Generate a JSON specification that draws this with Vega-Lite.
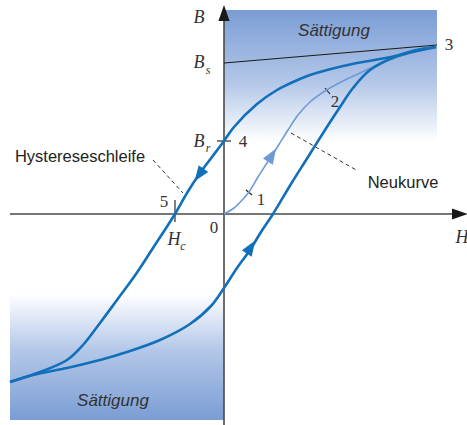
{
  "$schema": "https://vega.github.io/schema/vega-lite/v6.json",
  "width": 467,
  "height": 425,
  "padding": 0,
  "autosize": "none",
  "background": "white",
  "config": {"view": {"stroke": null}},
  "datasets": {
    "upper": [
      {"i":0,"H":212,"B":167},{"i":1,"H":193,"B":163},{"i":2,"H":167,"B":157},{"i":3,"H":133,"B":151},
      {"i":4,"H":103,"B":144},{"i":5,"H":86,"B":139},{"i":6,"H":69,"B":132},{"i":7,"H":53,"B":124},
      {"i":8,"H":33,"B":110},{"i":9,"H":10,"B":87},{"i":10,"H":0,"B":73},{"i":11,"H":-12,"B":57},
      {"i":12,"H":-24,"B":41},{"i":13,"H":-37,"B":21},{"i":14,"H":-49,"B":0},{"i":15,"H":-71,"B":-34},
      {"i":16,"H":-88,"B":-60},{"i":17,"H":-107,"B":-86},{"i":18,"H":-124,"B":-109},{"i":19,"H":-141,"B":-131},
      {"i":20,"H":-157,"B":-146},{"i":21,"H":-184,"B":-158},{"i":22,"H":-214,"B":-168}
    ],
    "lower": [
      {"i":0,"H":-214,"B":-168},{"i":1,"H":-191,"B":-161},{"i":2,"H":-157,"B":-154},{"i":3,"H":-124,"B":-146},
      {"i":4,"H":-97,"B":-138},{"i":5,"H":-64,"B":-126},{"i":6,"H":-34,"B":-110},{"i":7,"H":-13,"B":-92},
      {"i":8,"H":0,"B":-74},{"i":9,"H":13,"B":-54},{"i":10,"H":26,"B":-36},{"i":11,"H":37,"B":-18},
      {"i":12,"H":49,"B":0},{"i":13,"H":67,"B":30},{"i":14,"H":84,"B":57},{"i":15,"H":101,"B":84},
      {"i":16,"H":116,"B":107},{"i":17,"H":129,"B":126},{"i":18,"H":146,"B":144},{"i":19,"H":173,"B":158},
      {"i":20,"H":197,"B":165},{"i":21,"H":212,"B":167}
    ],
    "neu": [
      {"i":0,"H":0,"B":0},{"i":1,"H":10,"B":6},{"i":2,"H":20,"B":16},{"i":3,"H":25,"B":22},
      {"i":4,"H":34,"B":37},{"i":5,"H":43,"B":51},{"i":6,"H":54,"B":68},{"i":7,"H":64,"B":84},
      {"i":8,"H":74,"B":99},{"i":9,"H":86,"B":112},{"i":10,"H":101,"B":123},{"i":11,"H":117,"B":132},
      {"i":12,"H":134,"B":140},{"i":13,"H":153,"B":149},{"i":14,"H":177,"B":158},{"i":15,"H":200,"B":165},
      {"i":16,"H":212,"B":167}
    ]
  },
  "encoding": {
    "x": {"field": "H", "type": "quantitative", "scale": {"domain": [-224, 243], "nice": false, "zero": false}, "axis": null},
    "y": {"field": "B", "type": "quantitative", "scale": {"domain": [-211, 214], "nice": false, "zero": false}, "axis": null}
  },
  "layer": [
    {
      "data": {"values": [{"H": 0, "H2": 213, "B": 204, "B2": 72}]},
      "mark": {"type": "rect", "fill": {"gradient": "linear", "x1": 0, "y1": 0, "x2": 0, "y2": 1, "stops": [{"offset": 0, "color": "#7b9dd4"}, {"offset": 0.55, "color": "#b3c7e8"}, {"offset": 1, "color": "#ffffff"}]}},
      "encoding": {"x2": {"field": "H2"}, "y2": {"field": "B2"}}
    },
    {
      "data": {"values": [{"H": -214, "H2": 0, "B": -80, "B2": -206}]},
      "mark": {"type": "rect", "fill": {"gradient": "linear", "x1": 0, "y1": 0, "x2": 0, "y2": 1, "stops": [{"offset": 0, "color": "#ffffff"}, {"offset": 0.45, "color": "#b3c7e8"}, {"offset": 1, "color": "#7b9dd4"}]}},
      "encoding": {"x2": {"field": "H2"}, "y2": {"field": "B2"}}
    },
    {
      "data": {"values": [{"H": 0, "B": -211, "H2": 0, "B2": 200}, {"H": -214, "B": 0, "H2": 234, "B2": 0}]},
      "mark": {"type": "rule", "color": "#4a4a4a", "strokeWidth": 1.6},
      "encoding": {"x2": {"field": "H2"}, "y2": {"field": "B2"}}
    },
    {
      "data": {"values": [{"H": 0, "B": 201, "a": 0}, {"H": 236, "B": 0, "a": 90}]},
      "mark": {"type": "point", "shape": "M0,-1L0.7,1L-0.7,1Z", "filled": true, "size": 256, "color": "#1a1a1a", "opacity": 1, "strokeWidth": 0},
      "encoding": {"angle": {"field": "a", "type": "quantitative", "scale": null}}
    },
    {
      "data": {"values": [{"H": 110, "B": 183, "t": "Sättigung"}, {"H": -111, "B": -187, "t": "Sättigung"}]},
      "mark": {"type": "text", "font": "Liberation Sans", "fontStyle": "italic", "fontSize": 17, "color": "#333333", "align": "center", "baseline": "middle"},
      "encoding": {"text": {"field": "t"}}
    },
    {
      "data": {"values": [
        {"H": 0, "B": 151, "H2": 213, "B2": 169},
        {"H": -7, "B": 73, "H2": 7, "B2": 73},
        {"H": -49, "B": 14, "H2": -49, "B2": -8},
        {"H": 22, "B": 24, "H2": 28, "B2": 19},
        {"H": 101, "B": 126, "H2": 106, "B2": 120}
      ]},
      "mark": {"type": "rule", "color": "#1a1a1a", "strokeWidth": 1.1},
      "encoding": {"x2": {"field": "H2"}, "y2": {"field": "B2"}}
    },
    {
      "data": {"values": [{"H": -71, "B": 54, "H2": -41, "B2": 21}, {"H": 67, "B": 81, "H2": 134, "B2": 43}]},
      "mark": {"type": "rule", "color": "#333333", "strokeWidth": 1, "strokeDash": [4, 3]},
      "encoding": {"x2": {"field": "H2"}, "y2": {"field": "B2"}}
    },
    {
      "data": {"name": "neu"},
      "mark": {"type": "line", "color": "#6e9bd8", "strokeWidth": 1.6, "interpolate": "catmull-rom"},
      "encoding": {"order": {"field": "i", "type": "quantitative"}}
    },
    {
      "data": {"name": "upper"},
      "mark": {"type": "line", "color": "#126fba", "strokeWidth": 2.6, "interpolate": "catmull-rom"},
      "encoding": {"order": {"field": "i", "type": "quantitative"}}
    },
    {
      "data": {"name": "lower"},
      "mark": {"type": "line", "color": "#126fba", "strokeWidth": 2.6, "interpolate": "catmull-rom"},
      "encoding": {"order": {"field": "i", "type": "quantitative"}}
    },
    {
      "data": {"values": [{"H": -25, "B": 39, "a": 215}, {"H": 27, "B": -33, "a": 33}]},
      "mark": {"type": "point", "shape": "M0,-1L0.75,1L-0.75,1Z", "filled": true, "size": 240, "color": "#126fba", "opacity": 1, "strokeWidth": 0},
      "encoding": {"angle": {"field": "a", "type": "quantitative", "scale": null}}
    },
    {
      "data": {"values": [{"H": 48, "B": 59, "a": 32}]},
      "mark": {"type": "point", "shape": "M0,-1L0.75,1L-0.75,1Z", "filled": true, "size": 240, "color": "#6e9bd8", "opacity": 1, "strokeWidth": 0},
      "encoding": {"angle": {"field": "a", "type": "quantitative", "scale": null}}
    },
    {
      "data": {"values": [{"H": -144, "B": 57, "t": "Hystereseschleife"}, {"H": 179, "B": 31, "t": "Neukurve"}]},
      "mark": {"type": "text", "font": "Liberation Sans", "fontSize": 16.5, "color": "#222222", "align": "center", "baseline": "middle"},
      "encoding": {"text": {"field": "t"}}
    },
    {
      "data": {"values": [
        {"H": -25, "B": 196, "t": "B"},
        {"H": -25, "B": 151, "t": "B"},
        {"H": -25, "B": 72, "t": "B"},
        {"H": -50, "B": -26, "t": "H"},
        {"H": 238, "B": -24, "t": "H"}
      ]},
      "mark": {"type": "text", "font": "Liberation Serif", "fontStyle": "italic", "fontSize": 18, "color": "#333333", "align": "center", "baseline": "middle"},
      "encoding": {"text": {"field": "t"}}
    },
    {
      "data": {"values": [
        {"H": -16, "B": 144, "t": "s"},
        {"H": -16, "B": 66, "t": "r"},
        {"H": -41, "B": -32, "t": "c"}
      ]},
      "mark": {"type": "text", "font": "Liberation Serif", "fontStyle": "italic", "fontSize": 12, "color": "#333333", "align": "center", "baseline": "middle"},
      "encoding": {"text": {"field": "t"}}
    },
    {
      "data": {"values": [
        {"H": 19, "B": 72, "t": "4"},
        {"H": -60, "B": 12, "t": "5"},
        {"H": -10, "B": -14, "t": "0"},
        {"H": 37, "B": 14, "t": "1"},
        {"H": 111, "B": 112, "t": "2"},
        {"H": 225, "B": 169, "t": "3"}
      ]},
      "mark": {"type": "text", "font": "Liberation Serif", "fontSize": 17, "color": "#333333", "align": "center", "baseline": "middle"},
      "encoding": {"text": {"field": "t"}}
    }
  ]
}
